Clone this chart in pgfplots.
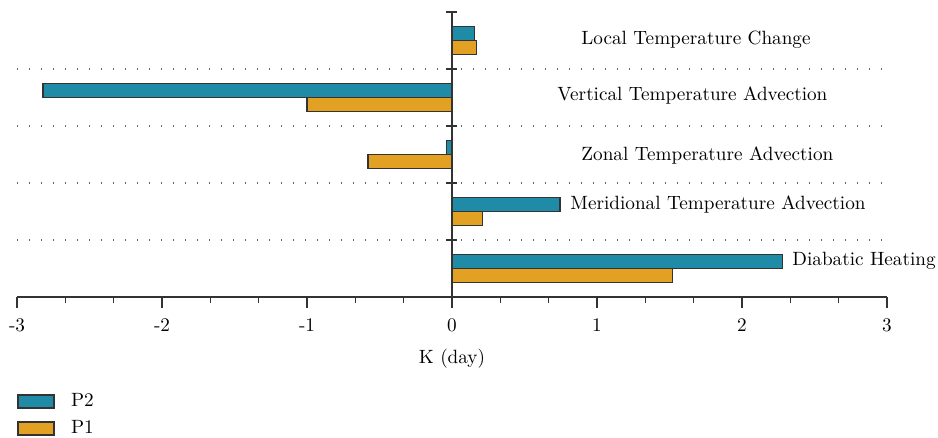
\documentclass[border=0pt]{standalone}
\usepackage{pgfplots}
\pgfplotsset{compat=1.18}
\definecolor{tealP}{RGB}{32,139,166}
\definecolor{amberP}{RGB}{227,161,36}
\definecolor{edge}{RGB}{51,51,51}
\newcommand{\lab}{\fontsize{9.6}{11}\selectfont}

\begin{document}
\begin{tikzpicture}
\begin{axis}[
  scale only axis, width=435pt, height=142.5pt,
  at={(0,0)}, anchor=south west,
  xmin=-3, xmax=3, ymin=-0.5, ymax=4.5,
  axis x line*=bottom, axis y line*=center,
  axis line style={draw=edge, line width=0.6pt},
  every tick/.style={draw=edge, line width=0.6pt},
  xtick={-3,-2,-1,0,1,2,3},
  xticklabels={-3,-2,-1,0,1,2,3},
  xticklabel style={yshift=-2pt},
  minor x tick num=2,
  xtick align=outside,
  major tick length=5.5pt, minor tick length=3pt,
  ytick={4.5}, yticklabels={},
  extra y ticks={0.5,1.5,2.5,3.5}, extra y tick labels={},
  extra y tick style={grid=major},
  ytick align=center,
  major grid style={dash pattern=on 0.7pt off 5.3pt, line width=0.7pt, black!60},
  ticklabel style={font=\lab},
  xlabel={K (day)},
  xlabel style={font=\lab, at={(axis description cs:0.5,0)}, anchor=center, yshift=-31pt},
  legend style={at={(0,0)}, anchor=north west, yshift=-46pt, draw=none, fill=none,
    inner sep=0pt, row sep=1.5pt, font=\lab},
  legend cell align=left,
  legend image code/.code={\draw[#1] (0pt,-3.25pt) rectangle (18pt,3.25pt);
    \path[draw=none, fill=none] (18pt,0pt) -- (24.5pt,0pt);},
  clip=false,
]
% P2 sits above the category centre, P1 below it
\addplot[xbar, bar width=7pt, bar shift=3.5pt, fill=tealP, draw=edge, line width=0.7pt]
  coordinates {(2.28,0) (0.745,1) (-0.037,2) (-2.82,3) (0.156,4)};
\addplot[xbar, bar width=7pt, bar shift=-3.5pt, fill=amberP, draw=edge, line width=0.7pt]
  coordinates {(1.52,0) (0.21,1) (-0.58,2) (-1.00,3) (0.17,4)};
\legend{P2, P1}

\node[anchor=west, inner sep=0pt, font=\lab] at (axis cs:0.89,4.01) {Local Temperature Change};
\node[anchor=west, inner sep=0pt, font=\lab] at (axis cs:0.724,3.04) {Vertical Temperature Advection};
\node[anchor=west, inner sep=0pt, font=\lab] at (axis cs:0.89,1.99) {Zonal Temperature Advection};
\node[anchor=west, inner sep=0pt, font=\lab] at (axis cs:0.814,1.13) {Meridional Temperature Advection};
\node[anchor=west, inner sep=0pt, font=\lab] at (axis cs:2.345,0.13) {Diabatic Heating};
\end{axis}
\pgfresetboundingbox
\path[use as bounding box] (-8.5pt,-70.5pt) rectangle (460.5pt,148.5pt);
\end{tikzpicture}
\end{document}
